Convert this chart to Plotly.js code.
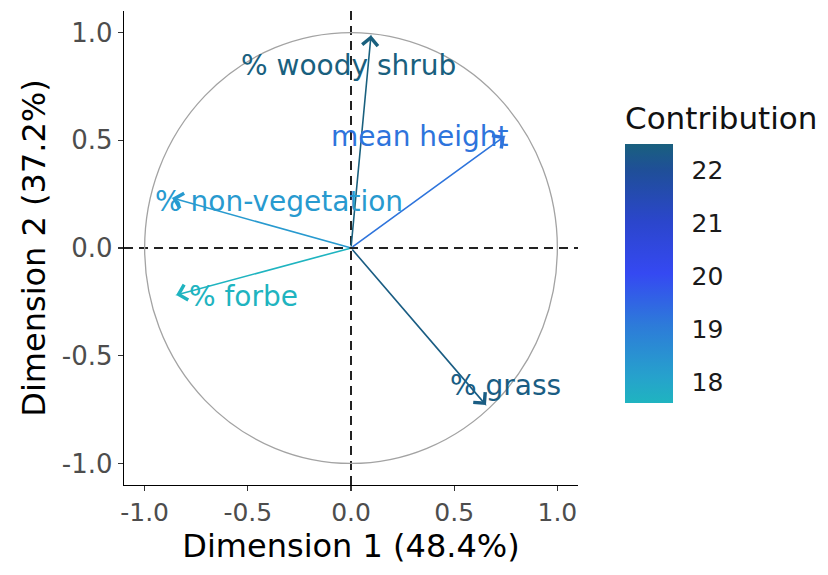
<!DOCTYPE html>
<html>
<head>
<meta charset="utf-8">
<script src="https://cdn.plot.ly/plotly-3.0.1.min.js"></script>
<style>
  html, body { margin: 0; padding: 0; background: #fff; }
  #chart { width: 828px; height: 575px; }
</style>
</head>
<body>
<div id="chart"></div>
<script>
// PCA variable loadings on the first two dimensions
const variables = ['% woody shrub', 'mean height', '% non-vegetation', '% forbe', '% grass'];
const dim1 = [0.097, 0.746, -0.867, -0.847, 0.654];
const dim2 = [0.988, 0.520, 0.232, -0.218, -0.729];
// contribution (%) of each variable to dimensions 1-2
const contrib = [22.5, 19.2, 18.3, 17.6, 22.4];

const axisTickVals = [-1, -0.5, 0, 0.5, 1];
const axisTickText = ['-1.0', '-0.5', '0.0', '0.5', '1.0'];
const contribTicks = [18, 19, 20, 21, 22];

const xTitle = 'Dimension 1 (48.4%)';
const yTitle = 'Dimension 2 (37.2%)';
const legendTitle = 'Contribution';

const FONT = 'DejaVu Sans';

const colorscale = [
  [0.00, '#1fb4c0'],
  [0.10, '#26a2cc'],
  [0.30, '#2d7bd9'],
  [0.50, '#3549f2'],
  [0.70, '#2b46cc'],
  [0.90, '#1f4f98'],
  [1.00, '#19607e']
];

function hexToRgb(h) {
  const n = parseInt(h.slice(1), 16);
  return [(n >> 16) & 255, (n >> 8) & 255, n & 255];
}
function colorFor(v, lo, hi) {
  const t = Math.min(1, Math.max(0, (v - lo) / (hi - lo)));
  for (let i = 1; i < colorscale.length; i++) {
    const [p1, c1] = colorscale[i];
    const [p0, c0] = colorscale[i - 1];
    if (t <= p1) {
      const f = (t - p0) / (p1 - p0);
      const a = hexToRgb(c0), b = hexToRgb(c1);
      const m = a.map((x, k) => Math.round(x + (b[k] - x) * f));
      return 'rgb(' + m.join(',') + ')';
    }
  }
  return colorscale[colorscale.length - 1][1];
}

const cLo = Math.min(...contrib);
const cHi = Math.max(...contrib);
const colors = contrib.map(v => colorFor(v, cLo, cHi));

// label placement relative to each arrow tip (pixels)
const labelNudge = [
  [-23, -30],
  [-85, -1],
  [107, -3],
  [67, -2],
  [20, 20]
];

const annotations = [];
variables.forEach((name, i) => {
  annotations.push({
    x: dim1[i], y: dim2[i], xref: 'x', yref: 'y',
    ax: 0, ay: 0, axref: 'x', ayref: 'y',
    text: '', showarrow: true,
    arrowhead: 4, arrowsize: 1.9, arrowwidth: 1.6,
    arrowcolor: colors[i]
  });
});
variables.forEach((name, i) => {
  annotations.push({
    x: dim1[i], y: dim2[i], xref: 'x', yref: 'y',
    text: name, showarrow: false,
    xshift: labelNudge[i][0], yshift: labelNudge[i][1],
    font: { family: FONT, size: 28, color: colors[i] }
  });
});

const scaleTrace = {
  type: 'scatter', mode: 'markers',
  x: dim1, y: dim2,
  hoverinfo: 'skip', showlegend: false,
  marker: {
    size: 1, color: contrib, colorscale: colorscale,
    cmin: cLo, cmax: cHi, showscale: true,
    colorbar: {
      thickness: 48, thicknessmode: 'pixels',
      len: 300, lenmode: 'pixels',
      x: 1.1035, xanchor: 'left', xpad: 0,
      y: 0.173, yanchor: 'bottom', ypad: 0,
      outlinewidth: 0,
      tickmode: 'array', tickvals: contribTicks,
      ticks: 'outside', ticklen: 14, tickcolor: 'rgba(0,0,0,0)',
      tickfont: { family: FONT, size: 25, color: '#1a1a1a' },
      title: { text: legendTitle, side: 'top', font: { family: FONT, size: 31, color: '#111' } }
    }
  }
};

const layout = {
  width: 828, height: 575,
  margin: { l: 124, r: 250, t: 11, b: 90 },
  paper_bgcolor: '#fff', plot_bgcolor: '#fff',
  font: { family: FONT },
  xaxis: {
    range: [-1.1, 1.1], showgrid: false, zeroline: false,
    showline: true, linecolor: '#000', linewidth: 1.3,
    ticks: 'outside', ticklen: 5, tickwidth: 1.3, tickcolor: '#333',
    tickmode: 'array', tickvals: axisTickVals, ticktext: axisTickText,
    tickfont: { family: FONT, size: 25, color: '#4d4d4d' },
    title: { text: xTitle, font: { family: FONT, size: 32, color: '#000' }, standoff: 6 }
  },
  yaxis: {
    range: [-1.1, 1.1], showgrid: false, zeroline: false,
    showline: true, linecolor: '#000', linewidth: 1.3,
    ticks: 'outside', ticklen: 5, tickwidth: 1.3, tickcolor: '#333',
    tickmode: 'array', tickvals: axisTickVals, ticktext: axisTickText,
    tickfont: { family: FONT, size: 26, color: '#4d4d4d' },
    title: { text: yTitle, font: { family: FONT, size: 32, color: '#000' }, standoff: 6 }
  },
  shapes: [
    { type: 'circle', xref: 'x', yref: 'y', x0: -1, x1: 1, y0: -1, y1: 1,
      line: { color: '#a3a3a3', width: 1.3 }, layer: 'below' },
    { type: 'line', xref: 'x', yref: 'paper', x0: 0, x1: 0, y0: 0, y1: 1,
      line: { color: '#222', width: 2, dash: '9px,6px' }, layer: 'below' },
    { type: 'line', xref: 'paper', yref: 'y', x0: 0, x1: 1, y0: 0, y1: 0,
      line: { color: '#222', width: 2, dash: '9px,6px' }, layer: 'below' }
  ],
  annotations: annotations
};

Plotly.newPlot('chart', [scaleTrace], layout, { displayModeBar: false, staticPlot: true });
</script>
</body>
</html>
